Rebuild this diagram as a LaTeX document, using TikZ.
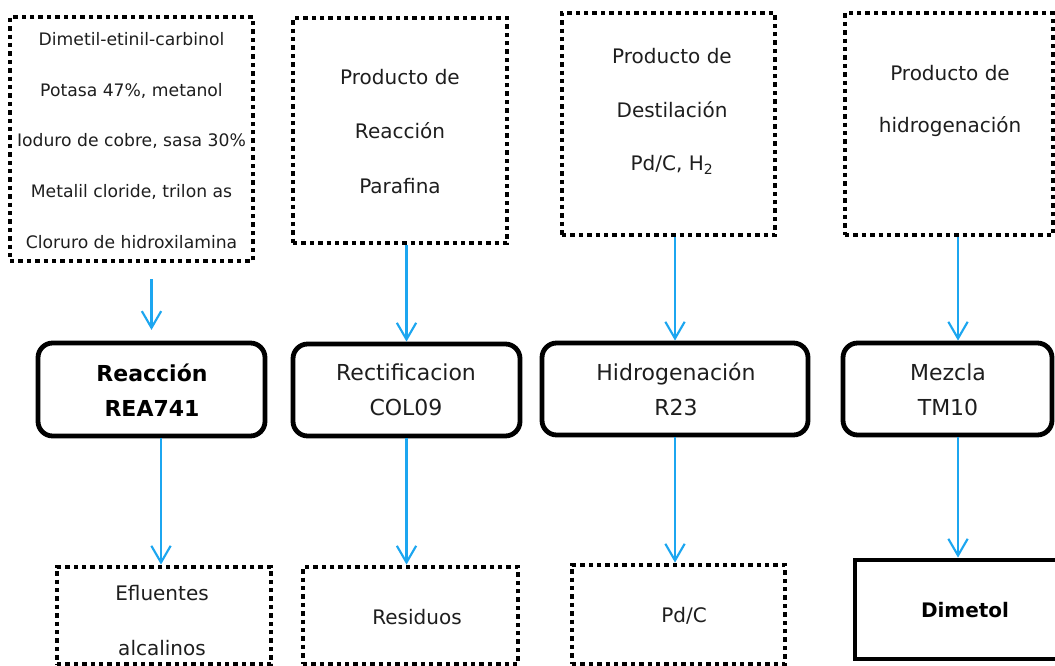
\documentclass[tikz,border=0pt]{standalone}
\usepackage{fontspec}
\setmainfont{DejaVu Sans}
\usetikzlibrary{arrows.meta}
\definecolor{flowblue}{RGB}{28,166,240}
\definecolor{ink}{RGB}{30,30,30}

\begin{document}
\begin{tikzpicture}[x=0.75pt,y=-0.75pt,
  dotbox/.style={draw=black, line width=3.6pt, dash pattern=on 3.3pt off 3pt,
    inner sep=0pt, line cap=butt},
  unitbox/.style={draw=black, line width=3.6pt, rounded corners=11pt, inner sep=0pt},
  prodbox/.style={draw=black, line width=3.6pt, inner sep=0pt},
  txt/.style={text=ink, align=center, inner sep=0pt},
  flow/.style={draw=flowblue, line width=1.6pt,
    -{Straight Barb[length=12.5pt,width=14.5pt,line width=1.6pt]}}]

\useasboundingbox (0,0) rectangle (1055,666);
\clip (0,0) rectangle (1055,666);
\fill[white] (0,0) rectangle (1055,666);

% feed boxes (top row)
\node[dotbox, minimum width=243*0.75pt, minimum height=244*0.75pt] (feedA) at (131.5,139) {};
\node[dotbox, minimum width=214*0.75pt, minimum height=225*0.75pt] (feedB) at (400,130.5) {};
\node[dotbox, minimum width=213*0.75pt, minimum height=222*0.75pt] (feedC) at (668.5,124) {};
\node[dotbox, minimum width=208*0.75pt, minimum height=222*0.75pt] (feedD) at (949,124) {};

\node[txt, font=\fontsize{12.9}{38}\selectfont] (tA) at (131.5,140.5)
  {Dimetil-etinil-carbinol\\Potasa 47\%, metanol\\Ioduro de cobre, sasa 30\%\\Metalil cloride, trilon as\\Cloruro de hidroxilamina};
\node[txt, font=\fontsize{15}{41}\selectfont] (tB) at (400,131.5)
  {Producto de\\Reacción\\Parafina};
\node[txt, font=\fontsize{15}{40}\selectfont] (tC) at (672,111.5)
  {Producto de\\Destilación\\Pd/C, H\textsubscript{2}};
\node[txt, font=\fontsize{15}{39}\selectfont] (tD) at (950,101)
  {Producto de\\hidrogenación};

% process units (middle row)
\node[unitbox, minimum width=227*0.75pt, minimum height=93*0.75pt] (rea) at (151.5,389.5) {};
\node[unitbox, minimum width=227*0.75pt, minimum height=92*0.75pt] (col) at (406.5,390) {};
\node[unitbox, minimum width=266*0.75pt, minimum height=92*0.75pt] (hyd) at (675,389) {};
\node[unitbox, minimum width=209*0.75pt, minimum height=92*0.75pt] (mez) at (947.5,389) {};

\node[txt, text=black, font=\fontsize{16.5}{26}\selectfont\bfseries] (trea) at (152,390.5)
  {Reacción\\REA741};
\node[txt, font=\fontsize{16.5}{26}\selectfont] (tcol) at (406,389.5)
  {Rectificacion\\COL09};
\node[txt, font=\fontsize{16.5}{26}\selectfont] (thyd) at (676,389.5)
  {Hidrogenación\\R23};
\node[txt, font=\fontsize{16.5}{26}\selectfont] (tmez) at (948,389.5)
  {Mezcla\\TM10};

% outlets (bottom row)
\node[dotbox, minimum width=214*0.75pt, minimum height=97*0.75pt] (eff) at (164,615.5) {};
\node[dotbox, minimum width=215*0.75pt, minimum height=97*0.75pt] (res) at (410.5,615.5) {};
\node[dotbox, minimum width=213*0.75pt, minimum height=99*0.75pt] (pdc) at (678.5,614.5) {};
\node[prodbox, minimum width=210*0.75pt, minimum height=99*0.75pt] (dim) at (960,609.5) {};

\node[txt, font=\fontsize{15}{41}\selectfont] (teff) at (162,620.5) {Efluentes\\alcalinos};
\node[txt, font=\fontsize{15}{18}\selectfont] (tres) at (417,617) {Residuos};
\node[txt, font=\fontsize{15}{18}\selectfont] (tpdc) at (684,616) {Pd/C};
\node[txt, text=black, font=\fontsize{15}{18}\selectfont\bfseries] (tdim) at (965,610) {Dimetol};

% connector columns
\coordinate (xmez) at (958,0);
\coordinate (xrea) at (161,0);

% flows
\draw[flow, shorten <=12pt, shorten >=8pt] (feedA.south -| rea.north) -- (rea.north);
\draw[flow] (feedB.south -| col.north) -- (col.north);
\draw[flow] (feedC.south -| hyd.north) -- (hyd.north);
\draw[flow] (feedD.south -| xmez) -- (mez.north -| xmez);

\draw[flow] (rea.south -| xrea) -- (eff.north -| xrea);
\draw[flow] (col.south) -- (res.north -| col.south);
\draw[flow] (hyd.south) -- (pdc.north -| hyd.south);
\draw[flow] (mez.south -| xmez) -- (dim.north -| xmez);
\end{tikzpicture}
\end{document}
